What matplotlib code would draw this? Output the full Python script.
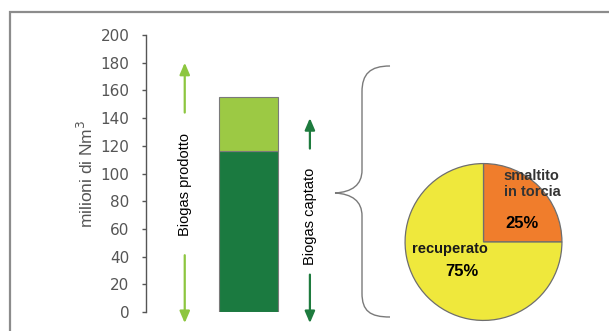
import matplotlib.pyplot as plt
from matplotlib.path import Path
from matplotlib.patches import PathPatch

plt.rcParams['font.family'] = ['Liberation Sans', 'DejaVu Sans']

# biogas, milioni di Nm3
biogas_prodotto = 155
biogas_captato = 116
# ripartizione del biogas captato, %
pie_labels = ['smaltito\nin torcia', 'recuperato']
pie_values = [25, 75]
pie_colors = ['#F07D2C', '#EFE83C']
yticks = list(range(0, 201, 20))

W, H = 609, 331
fig = plt.figure(figsize=(W / 100, H / 100), dpi=100)

# overlay in pixel units for the frame and the brace
deco = fig.add_axes([0, 0, 1, 1])
deco.set_xlim(0, W)
deco.set_ylim(H, 0)
deco.axis('off')
deco.plot([10, 10, W + 5], [H + 5, 12, 12], color='#8c8c8c', lw=1.6,
          solid_joinstyle='miter')
brace = Path(
    [(390, 66), (370, 66), (362, 74), (362, 92),
     (362, 170),
     (362, 185), (352, 192), (335, 193),
     (352, 194), (362, 201), (362, 216),
     (362, 293),
     (362, 311), (370, 317), (390, 317)],
    [Path.MOVETO, Path.CURVE4, Path.CURVE4, Path.CURVE4,
     Path.LINETO,
     Path.CURVE4, Path.CURVE4, Path.CURVE4,
     Path.CURVE4, Path.CURVE4, Path.CURVE4,
     Path.LINETO,
     Path.CURVE4, Path.CURVE4, Path.CURVE4])
deco.add_patch(PathPatch(brace, fill=False, edgecolor='#7a7a7a', lw=1.0))

# stacked bar
ax = fig.add_axes([146 / W, 19 / H, 180 / W, 277 / H])
ax.patch.set_visible(False)
ax.bar(0, biogas_captato, width=1, color='#1B7A40', edgecolor='#7a7a7a', lw=0.8)
ax.bar(0, biogas_prodotto - biogas_captato, bottom=biogas_captato, width=1,
       color='#9CC944', edgecolor='#7a7a7a', lw=0.8)
ax.set_xlim(-1.72, -1.72 + 180 / 59.6)
ax.set_ylim(0, 200)
ax.set_yticks(yticks)
for s in ['top', 'right', 'bottom']:
    ax.spines[s].set_visible(False)
ax.spines['left'].set_color('#555555')
ax.spines['left'].set_linewidth(1.0)
ax.set_xticks([])
ax.tick_params(axis='y', direction='out', length=3, width=1, color='#555555',
               labelcolor='#555555', pad=9)
for lbl in ax.get_yticklabels():
    lbl.set_fontfamily('DejaVu Sans')
    lbl.set_fontsize(11)
ax.set_ylabel('milioni di Nm$^3$', fontsize=12.5, color='#555555', labelpad=3)


def double_arrow(x, y_up0, y_up1, y_dn0, y_dn1, color):
    for y0, y1 in [(y_up0, y_up1), (y_dn0, y_dn1)]:
        ax.annotate('', xy=(x, y1), xytext=(x, y0), annotation_clip=False,
                    arrowprops=dict(arrowstyle='-|>,head_length=0.7,head_width=0.3',
                                    color=color, lw=1.6, shrinkA=0, shrinkB=0))


double_arrow(-1.07, 144, 180, 41, -8, '#8DC63F')
ax.text(-1.07, 92, 'Biogas prodotto', rotation=90, ha='center', va='center',
        fontsize=10.5, color='black')
double_arrow(1.03, 118, 140, 27, -8, '#1E7B3E')
ax.text(1.03, 69, 'Biogas captato', rotation=90, ha='center', va='center',
        fontsize=10.5, color='black')

# pie of the captured biogas
pax = fig.add_axes([(483.5 - 80) / W, (H - 242 - 80) / H, 160 / W, 160 / H])
pax.pie(pie_values, colors=pie_colors, startangle=90, counterclock=False,
        radius=1, wedgeprops=dict(edgecolor='#6e6e6e', linewidth=0.9))
pax.set_xlim(-1.02, 1.02)
pax.set_ylim(-1.02, 1.02)
pax.set_aspect('equal')
pax.axis('off')
pax.text(0.26, 0.74, pie_labels[0], ha='left', va='center', fontsize=10.5,
         fontweight='bold', color='#333333', linespacing=1.2)
pax.text(0.49, 0.23, f'{pie_values[0]}%', ha='center', va='center',
         fontsize=12, fontweight='bold', color='black')
pax.text(-0.43, -0.09, pie_labels[1], ha='center', va='center', fontsize=10.5,
         fontweight='bold', color='#1a1a1a')
pax.text(-0.275, -0.37, f'{pie_values[1]}%', ha='center', va='center',
         fontsize=12, fontweight='bold', color='black')

fig.savefig('out.png', dpi=100)
